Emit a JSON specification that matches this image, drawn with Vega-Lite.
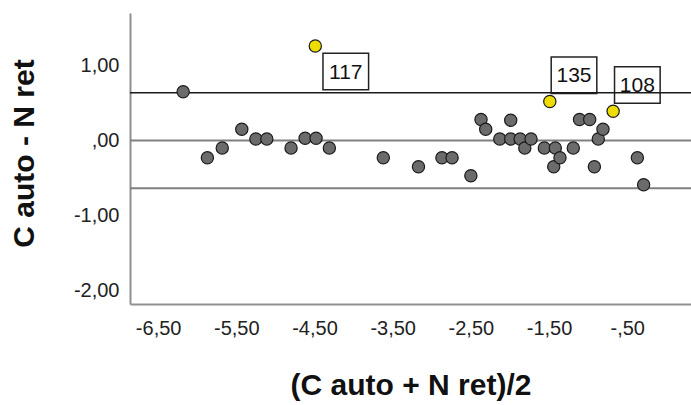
{
  "$schema": "https://vega.github.io/schema/vega-lite/v6.json",
  "width": 561,
  "height": 291,
  "autosize": "none",
  "padding": {"left": 130, "top": 13, "right": 0, "bottom": 101},
  "background": "white",
  "config": {"view": {"stroke": null}, "font": "Liberation Sans"},
  "datasets": {
    "points": [
      {"mean": -4.49, "diff": 1.26, "id": "117"},
      {"mean": -6.18, "diff": 0.65, "id": null},
      {"mean": -5.87, "diff": -0.23, "id": null},
      {"mean": -5.68, "diff": -0.10, "id": null},
      {"mean": -5.43, "diff": 0.15, "id": null},
      {"mean": -5.25, "diff": 0.02, "id": null},
      {"mean": -5.11, "diff": 0.02, "id": null},
      {"mean": -4.80, "diff": -0.10, "id": null},
      {"mean": -4.62, "diff": 0.03, "id": null},
      {"mean": -4.48, "diff": 0.03, "id": null},
      {"mean": -4.31, "diff": -0.10, "id": null},
      {"mean": -3.62, "diff": -0.23, "id": null},
      {"mean": -3.17, "diff": -0.35, "id": null},
      {"mean": -2.87, "diff": -0.23, "id": null},
      {"mean": -2.74, "diff": -0.23, "id": null},
      {"mean": -2.50, "diff": -0.47, "id": null},
      {"mean": -2.37, "diff": 0.28, "id": null},
      {"mean": -2.31, "diff": 0.15, "id": null},
      {"mean": -2.13, "diff": 0.02, "id": null},
      {"mean": -1.99, "diff": 0.27, "id": null},
      {"mean": -1.99, "diff": 0.02, "id": null},
      {"mean": -1.87, "diff": 0.02, "id": null},
      {"mean": -1.81, "diff": -0.10, "id": null},
      {"mean": -1.73, "diff": 0.02, "id": null},
      {"mean": -1.56, "diff": -0.10, "id": null},
      {"mean": -1.49, "diff": 0.52, "id": "135"},
      {"mean": -1.44, "diff": -0.35, "id": null},
      {"mean": -1.42, "diff": -0.10, "id": null},
      {"mean": -1.36, "diff": -0.23, "id": null},
      {"mean": -1.19, "diff": -0.10, "id": null},
      {"mean": -1.11, "diff": 0.28, "id": null},
      {"mean": -0.98, "diff": 0.28, "id": null},
      {"mean": -0.92, "diff": -0.35, "id": null},
      {"mean": -0.87, "diff": 0.02, "id": null},
      {"mean": -0.81, "diff": 0.15, "id": null},
      {"mean": -0.68, "diff": 0.39, "id": "108"},
      {"mean": -0.37, "diff": -0.23, "id": null},
      {"mean": -0.29, "diff": -0.59, "id": null}
    ],
    "lines": [
      {"diff": 0.637, "line": "upper"},
      {"diff": 0, "line": "mean"},
      {"diff": -0.637, "line": "lower"}
    ]
  },
  "layer": [
    {
      "data": {"name": "points"},
      "transform": [{"filter": "datum.id == '117'"}],
      "mark": {"type": "point", "shape": "M-1.25,-1L1.25,-1L1.25,1L-1.25,1Z", "size": 1332, "filled": true, "fill": "white", "stroke": "#222222", "strokeWidth": 1.5, "opacity": 1, "xOffset": 30.5, "yOffset": 25.5},
      "encoding": {
        "x": {"field": "mean", "type": "quantitative", "scale": {"domain": [-6.86, 0.316], "nice": false, "zero": false},
          "axis": {"values": [-6.5, -5.5, -4.5, -3.5, -2.5, -1.5, -0.5],
            "labelExpr": "(datum.value < 0 ? '-' : '') + (abs(datum.value) < 1 ? ',' + substring(format(abs(datum.value), '.2f'), 2) : replace(format(abs(datum.value), '.2f'), '.', ','))",
            "grid": false, "ticks": false, "domainColor": "#8f8f8f", "domainWidth": 2,
            "labelFontSize": 20, "labelColor": "#222222", "labelPadding": 14, "labelFlush": false,
            "title": "(C auto + N ret)/2", "titleFontSize": 30, "titleFontWeight": "bold", "titleColor": "#111111",
            "titleX": 280.5, "titleY": 81, "titleBaseline": "middle"}},
        "y": {"field": "diff", "type": "quantitative", "scale": {"domain": [-2.18, 1.70], "nice": false, "zero": false},
          "axis": {"values": [-2, -1, 0, 1],
            "labelExpr": "(datum.value < 0 ? '-' : '') + (abs(datum.value) < 1 ? ',' + substring(format(abs(datum.value), '.2f'), 2) : replace(format(abs(datum.value), '.2f'), '.', ','))",
            "grid": false, "ticks": false, "domainColor": "#8f8f8f", "domainWidth": 2,
            "labelFontSize": 20, "labelColor": "#222222", "labelPadding": 11, "labelFlush": false,
            "title": "C auto - N ret", "titleFontSize": 30, "titleFontWeight": "bold", "titleColor": "#111111",
            "titleX": -106, "titleY": 140, "titleAngle": -90, "titleBaseline": "middle"}}
      }
    },
    {
      "data": {"name": "points"},
      "transform": [{"filter": "datum.id == '135' || datum.id == '108'"}],
      "mark": {"type": "point", "shape": "M-1.25,-1L1.25,-1L1.25,1L-1.25,1Z", "size": 1332, "filled": true, "fill": "white", "stroke": "#222222", "strokeWidth": 1.5, "opacity": 1, "xOffset": 24.2, "yOffset": -26.3},
      "encoding": {
        "x": {"field": "mean", "type": "quantitative"},
        "y": {"field": "diff", "type": "quantitative"}
      }
    },
    {
      "data": {"name": "lines"},
      "mark": {"type": "rule"},
      "encoding": {
        "y": {"field": "diff", "type": "quantitative"},
        "color": {"condition": {"test": "datum.line == 'upper'", "value": "#1a1a1a"}, "value": "#808080"},
        "strokeWidth": {"condition": {"test": "datum.line == 'upper'", "value": 1.3}, "value": 2}
      }
    },
    {
      "data": {"name": "points"},
      "mark": {"type": "point", "filled": true, "size": 150, "stroke": "#1a1a1a", "strokeWidth": 1.2, "opacity": 1},
      "encoding": {
        "x": {"field": "mean", "type": "quantitative"},
        "y": {"field": "diff", "type": "quantitative"},
        "fill": {"condition": {"test": "datum.id != null", "value": "#eedd00"}, "value": "#6b6b6b"}
      }
    },
    {
      "data": {"name": "points"},
      "transform": [{"filter": "datum.id == '117'"}],
      "mark": {"type": "text", "fontSize": 21, "color": "#111111", "align": "center", "baseline": "middle", "dx": 30.5, "dy": 26.5},
      "encoding": {
        "x": {"field": "mean", "type": "quantitative"},
        "y": {"field": "diff", "type": "quantitative"},
        "text": {"field": "id"}
      }
    },
    {
      "data": {"name": "points"},
      "transform": [{"filter": "datum.id == '135' || datum.id == '108'"}],
      "mark": {"type": "text", "fontSize": 21, "color": "#111111", "align": "center", "baseline": "middle", "dx": 24.2, "dy": -25.3},
      "encoding": {
        "x": {"field": "mean", "type": "quantitative"},
        "y": {"field": "diff", "type": "quantitative"},
        "text": {"field": "id"}
      }
    }
  ]
}
